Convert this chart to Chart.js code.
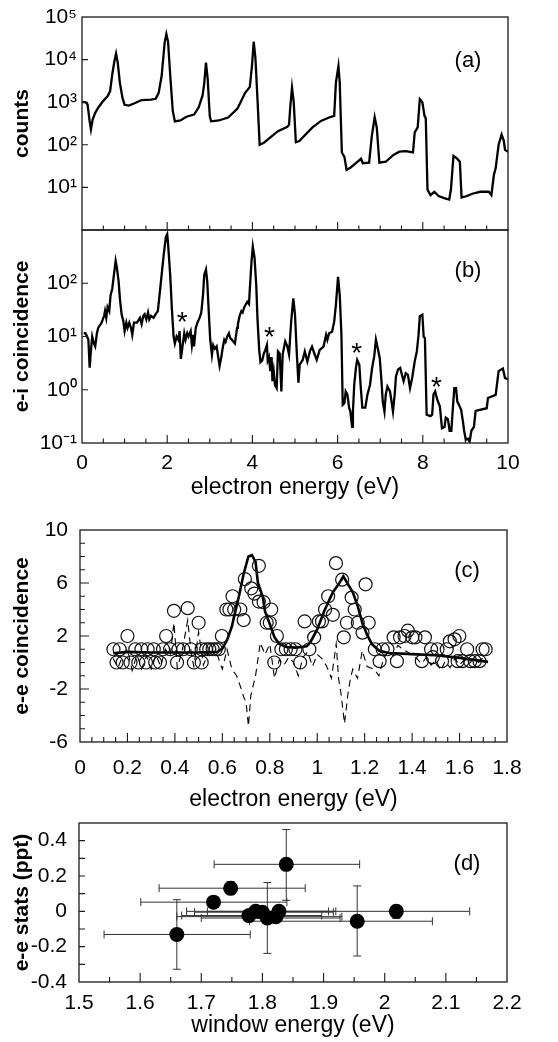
<!DOCTYPE html>
<html><head><meta charset="utf-8">
<script src="https://cdn.jsdelivr.net/npm/chart.js@4.4.1/dist/chart.umd.min.js"></script>
<style>
html,body{margin:0;padding:0;background:#fff;overflow:hidden;}
#wrap{position:relative;width:558px;height:1042px;overflow:hidden;background:#fff;}
canvas{position:absolute;left:0;}
</style></head><body>
<div id="wrap">
<canvas id="cA" width="558" height="231" style="top:0px;width:558px;height:231px"></canvas>
<canvas id="cB" width="558" height="290" style="top:220px;width:558px;height:290px"></canvas>
<canvas id="cC" width="558" height="300" style="top:515px;width:558px;height:300px"></canvas>
<canvas id="cD" width="558" height="232" style="top:810px;width:558px;height:232px"></canvas>
</div>
<script>
// ---------- panel (a): counts vs electron energy ----------
const aE = [0,0.08,0.13,0.18,0.21,0.25,0.31,0.38,0.49,0.6,0.66,0.71,0.76,0.8,0.84,0.89,0.95,1.0,1.1,1.22,1.4,1.62,1.73,1.8,1.87,1.94,1.98,2.02,2.07,2.13,2.18,2.31,2.45,2.63,2.74,2.83,2.87,2.91,2.95,3.0,3.03,3.21,3.43,3.65,3.83,3.94,3.99,4.03,4.07,4.12,4.17,4.27,4.45,4.6,4.82,4.86,4.89,4.93,4.97,5.02,5.1,5.41,5.61,5.8,5.92,5.96,6.02,6.05,6.1,6.16,6.21,6.3,6.43,6.55,6.59,6.74,6.8,6.87,6.92,6.98,7.13,7.31,7.45,7.6,7.77,7.81,7.88,7.93,7.99,8.04,8.07,8.11,8.18,8.27,8.37,8.5,8.62,8.66,8.72,8.8,8.87,8.91,9.02,9.16,9.35,9.55,9.61,9.67,9.71,9.78,9.85,9.9,9.93,10];
const aCounts = [1000,1000,891,355,229,389,562,741,1047,1380,1820,4467,9120,13800,8318,2818,1259,871,832,933,1122,1148,1202,1660,4169,25100,39800,26300,4467,631,355,372,457,513,759,1445,2818,8511,3548,468,355,372,437,708,1660,2291,7079,26300,11200,1148,100,112,158,209,263,295,794,2188,1000,115,123,257,363,437,479,2884,7079,2884,66,52,26,29,37,47,37,38,151,447,251,38,40,58,69,71,66,195,257,1175,1000,479,417,8.9,6.6,7.9,6.3,5.6,5.2,8.9,55,48,40,5.8,6.2,7.1,7.9,7.9,6.6,20,28,100,174,126,76,69];

// ---------- panel (b): e-i coincidence ----------
const bE = [0.04,0.08,0.12,0.15,0.18,0.21,0.24,0.28,0.31,0.35,0.38,0.46,0.52,0.54,0.57,0.6,0.64,0.67,0.71,0.75,0.79,0.82,0.86,0.89,0.93,0.97,1.0,1.04,1.07,1.11,1.15,1.18,1.22,1.29,1.36,1.4,1.44,1.47,1.51,1.55,1.58,1.62,1.68,1.73,1.78,1.82,1.87,1.92,1.97,2.0,2.02,2.07,2.11,2.15,2.18,2.22,2.26,2.29,2.32,2.36,2.4,2.43,2.47,2.5,2.55,2.58,2.61,2.63,2.67,2.71,2.76,2.8,2.84,2.87,2.91,2.94,2.98,3.01,3.05,3.08,3.12,3.16,3.19,3.23,3.27,3.3,3.34,3.37,3.41,3.45,3.48,3.52,3.56,3.59,3.64,3.66,3.7,3.74,3.77,3.81,3.85,3.88,3.92,3.94,3.98,4.01,4.05,4.09,4.12,4.16,4.19,4.23,4.27,4.3,4.34,4.36,4.39,4.42,4.45,4.47,4.5,4.53,4.57,4.6,4.64,4.68,4.71,4.77,4.82,4.86,4.91,4.96,5.0,5.04,5.08,5.11,5.18,5.23,5.29,5.35,5.4,5.45,5.51,5.58,5.67,5.73,5.76,5.8,5.87,5.92,5.96,6.01,6.05,6.09,6.12,6.16,6.19,6.23,6.27,6.3,6.34,6.36,6.39,6.43,6.46,6.51,6.54,6.58,6.65,6.7,6.76,6.81,6.86,6.9,6.95,6.99,7.03,7.06,7.1,7.13,7.17,7.23,7.26,7.3,7.34,7.37,7.42,7.47,7.52,7.55,7.6,7.65,7.7,7.75,7.81,7.86,7.9,7.93,7.99,8.02,8.05,8.09,8.18,8.22,8.25,8.29,8.34,8.4,8.45,8.51,8.54,8.59,8.63,8.67,8.7,8.74,8.78,8.81,8.85,8.9,8.94,8.97,9.01,9.06,9.1,9.14,9.2,9.24,9.5,9.53,9.71,9.78,9.88,9.93,10];
const bCoinc = [11.5,11.5,10,8.7,2.6,5.5,10,7.4,6.5,11.5,14.5,18.2,24.5,30,22.4,35.5,30,59,79,145,263,195,107,51,26,19.5,12.6,18.2,14.5,18.2,14.5,10.7,18.2,18.2,22.4,17,24.5,26.3,20.9,28.2,20.9,24.5,22.4,26.3,30,59,145,355,741,832,550,145,33,10,7.4,10,8.7,12.6,3.8,6.5,11.5,8.7,11.5,10,12.6,6.9,10.7,6.5,14.5,18.2,22.4,28.2,59,145,182,107,24.5,8.7,4.5,6.9,5.9,6.5,4.5,2.8,4.1,5.9,8.7,7.9,10,11.5,9.3,8.7,7.9,7.4,14.5,17,24.5,30,28.2,35.5,40.7,44.7,40.7,79,263,490,302,93,21,5.5,3.3,3.55,4.8,5.5,6.9,3.55,4.1,2.24,4.1,1.45,2.24,1.23,1.07,5.25,4.8,0.93,4.57,8.1,6.5,4.57,19,52,25.7,5.25,1.35,2.95,3.63,5.25,3.39,5.25,6.46,4.9,3.63,5.62,6.46,10.7,8.71,11.5,12.3,19,38.9,132,60,10.7,0.52,0.56,0.93,0.81,0.46,0.39,0.2,0.39,1.23,2.57,3.63,2.95,1.23,0.46,0.46,0.81,1.23,2.57,4.27,8.7,5.62,3.89,1.45,0.6,0.39,0.81,1.15,0.93,0.65,0.39,0.81,1.78,2.4,2.57,1.78,1.45,2.04,1.91,1.07,1.66,3.39,5.25,10.7,24,25.7,10,9.33,0.34,0.32,0.34,0.81,0.93,0.65,0.49,0.19,0.2,0.3,0.28,0.17,0.17,0.39,1.07,1.07,0.6,0.52,0.42,0.26,0.17,0.115,0.12,0.107,0.17,0.2,0.4,0.45,0.7,0.8,2.24,2.5,1.66,1.58];
const starE = [2.35, 4.4, 6.45, 8.32];
const starV = [25, 13, 6.5, 1.5];

// tick values / labels for (a),(b)
const abXMajor = [2,4,6,8];
const abXMinor = [0.5,1,1.5,2.5,3,3.5,4.5,5,5.5,6.5,7,7.5,8.5,9,9.5];
const bXTicks = [0,2,4,6,8,10];
const bXLabels = ['0','2','4','6','8','10'];
const aYTicks = [10,100,1000,10000,100000];
const aYLabels = ['10¹','10²','10³','10⁴','10⁵'];
const bYTicks = [0.1,1,10,100];
const bYLabels = ['10⁻¹','10⁰','10¹','10²'];

// ---------- panel (c): e-e coincidence ----------
const cE = [0.141,0.154,0.167,0.18,0.2,0.213,0.233,0.246,0.259,0.278,0.285,0.311,0.317,0.337,0.35,0.363,0.38,0.396,0.409,0.415,0.435,0.454,0.467,0.48,0.5,0.513,0.513,0.532,0.545,0.559,0.572,0.585,0.598,0.617,0.63,0.643,0.65,0.676,0.69,0.695,0.722,0.735,0.754,0.754,0.774,0.787,0.8,0.806,0.819,0.83,0.849,0.868,0.888,0.908,0.928,0.947,0.967,0.987,1.007,1.02,1.033,1.046,1.066,1.079,1.105,1.112,1.125,1.145,1.158,1.171,1.191,1.204,1.217,1.243,1.263,1.276,1.296,1.322,1.336,1.349,1.368,1.382,1.401,1.414,1.441,1.454,1.48,1.487,1.507,1.526,1.546,1.559,1.579,1.599,1.592,1.612,1.632,1.645,1.664,1.684,1.697,1.71];
const cV = [1,0,1,0,2,0,1,0,1,0,1,1,0,0,1,2,1,3.9,0,1,1,4.1,1,0,3,0,1,1,1,1,1,1,2,4,4,5,4,4,3.2,6.3,5.6,5.2,7.3,4.6,4.55,3,3,4,0,2,1,1,1,1,0,3.1,1,1.9,3.1,3.1,4,5,3.6,7.5,6.25,1.9,3,4.9,4,3,2.25,5.9,3,1,0.1,1,1,1.9,0.1,1.9,2,2.4,1.9,1.9,0.1,1.9,1,0.4,1,0.1,1,1.6,1.75,2,0.1,0.1,1,0.1,0.1,0.1,1,1];
const fE = [0.14,0.2,0.3,0.4,0.5,0.58,0.6,0.62,0.64,0.65,0.67,0.69,0.71,0.725,0.74,0.75,0.77,0.78,0.8,0.82,0.84,0.87,0.91,0.955,0.97,1.0,1.03,1.066,1.09,1.11,1.13,1.15,1.17,1.19,1.21,1.23,1.26,1.3,1.4,1.5,1.6,1.72];
const fV = [0.7,0.8,0.75,0.75,0.75,0.8,1.05,1.7,2.7,3.5,5.0,6.7,8.0,8.1,7.6,6.0,5.0,3.85,2.9,1.9,1.4,1.17,1.12,1.22,1.5,2.5,3.9,5.3,5.9,6.5,5.9,5.3,4.3,3.0,2.1,1.4,0.9,0.72,0.63,0.55,0.35,0.05];
const gE = [0.14,0.16,0.18,0.2,0.22,0.24,0.26,0.28,0.3,0.32,0.34,0.36,0.38,0.396,0.41,0.43,0.454,0.47,0.48,0.5,0.52,0.54,0.56,0.58,0.6,0.62,0.64,0.66,0.68,0.69,0.7,0.71,0.72,0.74,0.76,0.78,0.8,0.82,0.84,0.86,0.88,0.9,0.92,0.94,0.96,0.98,1.0,1.02,1.04,1.06,1.08,1.09,1.1,1.115,1.13,1.14,1.15,1.17,1.19,1.21,1.24,1.26,1.28,1.3,1.32,1.34,1.36,1.38,1.4,1.42,1.44,1.46,1.48,1.5,1.52,1.54,1.56,1.58,1.6,1.62,1.64,1.66,1.68,1.7];
const gV = [0.3,-0.4,0.5,1.0,-0.6,0.6,-0.5,0.5,-0.5,0.6,-0.3,1.0,0.5,3.0,-0.4,0.8,3.2,0.5,-0.3,2.3,-0.2,0.7,0.8,0.5,-0.5,1.0,-0.5,-1.0,-2.0,-2.6,-3.0,-4.8,-2.5,-1.0,1.5,0.6,1.4,-1.2,0.2,-0.2,0.4,0.0,-1.0,0.4,0.8,-0.3,0.6,0.3,-0.3,-1.2,1.4,-1.2,-2.3,-4.6,-2.3,-1.2,-0.5,-1.2,0.9,-0.3,-0.5,-1.0,0.3,0.9,0.5,1.3,1.0,0.8,0.5,0.3,-0.1,0.4,-0.2,0.2,-0.6,0.1,-0.4,0.3,-0.2,0.2,-0.1,0.3,0.0,0.4];
const cXTicks = [0,0.2,0.4,0.6,0.8,1,1.2,1.4,1.6,1.8];
const cXLabels = ['0','0.2','0.4','0.6','0.8','1','1.2','1.4','1.6','1.8'];
const cXMajor = [0.2,0.4,0.6,0.8,1,1.2,1.4,1.6];
const cXMinor = [0.05,0.1,0.15,0.25,0.3,0.35,0.45,0.5,0.55,0.65,0.7,0.75,0.85,0.9,0.95,1.05,1.1,1.15,1.25,1.3,1.35,1.45,1.5,1.55,1.65,1.7,1.75];
const cYTicks = [-6,-2,2,6,10];
const cYLabels = ['-6','-2','2','6','10'];
const cYMajor = [-2,2,6];
const cYMinor = [-5,-4,-3,-1,0,1,3,4,5,7,8,9];

// ---------- panel (d): e-e stats ----------
const dX   = [1.66,1.72,1.748,1.839,1.778,1.789,1.80,1.808,1.822,1.827,1.955,2.019];
const dY   = [-0.131,0.052,0.131,0.266,-0.024,0.0,-0.005,-0.038,-0.03,0.0,-0.056,0.0];
const dXLo = [1.541,1.601,1.631,1.721,1.668,1.676,1.689,1.70,1.66,1.71,1.779,1.827];
const dXHi = [1.78,1.84,1.87,1.959,1.897,1.908,1.916,1.927,1.93,1.92,2.078,2.139];
const dYLo = [-0.328,0.035,0.094,0.062,-0.04,-0.015,-0.02,-0.238,-0.045,-0.015,-0.253,-0.041];
const dYHi = [0.066,0.07,0.169,0.463,-0.008,0.015,0.01,0.163,-0.015,0.015,0.144,0.034];
const dXTicks = [1.5,1.6,1.7,1.8,1.9,2.0,2.1,2.2];
const dXLabels = ['1.5','1.6','1.7','1.8','1.9','2','2.1','2.2'];
const dXMajor = [1.6,1.7,1.8,1.9,2.0,2.1];
const dXMinor = [1.55,1.65,1.75,1.85,1.95,2.05,2.15];
const dYTicks = [-0.4,-0.2,0,0.2,0.4];
const dYLabels = ['-0.4','-0.2','0','0.2','0.4'];
const dYMinor = [-0.3,-0.2,-0.1,0,0.1,0.2,0.3,0.4];

// ---------- helpers ----------
const FONT = "'Liberation Sans', Arial, Helvetica, sans-serif";
Chart.defaults.font.family = FONT;
Chart.defaults.color = '#000';

const zip = (xs, ys) => xs.map((x, i) => ({x, y: ys[i]}));

const deco = {
  id: 'deco',
  beforeDatasetsDraw(chart, args, o) {
    if (!o.err) return;
    const {ctx} = chart; const xs = chart.scales.x, ys = chart.scales.y;
    const e = o.err;
    ctx.save();
    ctx.strokeStyle = '#333'; ctx.lineWidth = 1;
    ctx.beginPath();
    for (let i = 0; i < e.x.length; i++) {
      const px = xs.getPixelForValue(e.x[i]), py = ys.getPixelForValue(e.y[i]);
      const xl = xs.getPixelForValue(e.xlo[i]), xh = xs.getPixelForValue(e.xhi[i]);
      const yl = ys.getPixelForValue(e.ylo[i]), yh = ys.getPixelForValue(e.yhi[i]);
      ctx.moveTo(xl, py); ctx.lineTo(xh, py);
      ctx.moveTo(xl, py - 4); ctx.lineTo(xl, py + 4);
      ctx.moveTo(xh, py - 4); ctx.lineTo(xh, py + 4);
      ctx.moveTo(px, yl); ctx.lineTo(px, yh);
      ctx.moveTo(px - 4, yl); ctx.lineTo(px + 4, yl);
      ctx.moveTo(px - 4, yh); ctx.lineTo(px + 4, yh);
    }
    ctx.stroke();
    ctx.restore();
  },
  afterDatasetsDraw(chart, args, o) {
    const {ctx, chartArea: ca} = chart; const xs = chart.scales.x, ys = chart.scales.y;
    ctx.save();
    ctx.strokeStyle = '#1a1a1a'; ctx.lineWidth = 1.3;
    ctx.strokeRect(ca.left, ca.top, ca.right - ca.left, ca.bottom - ca.top);
    ctx.lineWidth = 1.1;
    ctx.beginPath();
    (o.xMajor || []).forEach(v => { const p = xs.getPixelForValue(v); ctx.moveTo(p, ca.bottom); ctx.lineTo(p, ca.bottom - o.xMajLen); });
    (o.xMinor || []).forEach(v => { const p = xs.getPixelForValue(v); ctx.moveTo(p, ca.bottom); ctx.lineTo(p, ca.bottom - o.xMinLen); });
    (o.yMajor || []).forEach(v => { const p = ys.getPixelForValue(v); ctx.moveTo(ca.left, p); ctx.lineTo(ca.left + o.yMajLen, p); });
    (o.yMinor || []).forEach(v => { const p = ys.getPixelForValue(v); ctx.moveTo(ca.left, p); ctx.lineTo(ca.left + o.yMinLen, p); });
    ctx.stroke();
    ctx.fillStyle = '#000';
    if (o.label) {
      ctx.font = '22px ' + FONT;
      ctx.textAlign = 'center'; ctx.textBaseline = 'middle';
      ctx.fillText(o.label, ca.right + o.labelDx, ca.top + o.labelDy);
    }
    if (o.stars) {
      ctx.font = '28px ' + FONT;
      ctx.textAlign = 'center'; ctx.textBaseline = 'alphabetic';
      o.stars.x.forEach((sx, i) => {
        ctx.fillText('*', xs.getPixelForValue(sx), ys.getPixelForValue(o.stars.y[i]) + 16);
      });
    }
    ctx.restore();
  }
};

function xAxis(min, max, tks, lbls, h, pad, title, tpad, show) {
  return {
    type: 'linear', position: 'bottom', min, max, display: show,
    grid: {display: false, drawTicks: false}, border: {display: false},
    afterBuildTicks: s => { s.ticks = tks.map(v => ({value: v})); },
    afterFit: s => { s.height = h; s.paddingLeft = 0; s.paddingRight = 0; s.paddingTop = 0; s.paddingBottom = 0; },
    ticks: {autoSkip: false, maxRotation: 0, minRotation: 0, padding: pad, color: '#000', font: {size: 21}, callback: (v, i) => lbls[i]},
    title: {display: !!title, text: title || '', color: '#000', font: {size: 23}, padding: {top: 0, bottom: tpad}}
  };
}
function yAxis(type, min, max, tks, lbls, w, pad, title) {
  return {
    type, position: 'left', min, max,
    grid: {display: false, drawTicks: false}, border: {display: false},
    afterBuildTicks: s => { s.ticks = tks.map(v => ({value: v})); },
    afterFit: s => { s.width = w; s.paddingTop = 0; s.paddingBottom = 0; s.paddingLeft = 0; s.paddingRight = 0; },
    ticks: {autoSkip: false, padding: pad, color: '#000', font: {size: 21}, callback: (v, i) => lbls[i]},
    title: {display: true, text: title, color: '#000', font: {size: 21, weight: 'bold'}, padding: {top: 9.5, bottom: 0}}
  };
}
function make(id, datasets, x, y, decoOpts, padding) {
  return new Chart(document.getElementById(id), {
    type: 'scatter',
    data: {datasets},
    options: {
      responsive: false, maintainAspectRatio: false, animation: false, devicePixelRatio: 1,
      layout: {padding},
      scales: {x, y},
      plugins: {legend: {display: false}, tooltip: {enabled: false}, deco: decoOpts}
    },
    plugins: [deco]
  });
}
const lineDs = (data, w, dash) => ({data, showLine: true, pointRadius: 0, borderColor: '#000', borderWidth: w, borderDash: dash || [], tension: 0, fill: false});

// (a)
make('cA', [lineDs(zip(aE, aCounts), 2.3)],
  xAxis(0, 10, [], [], 0, 0, '', 0, false),
  yAxis('logarithmic', 1, 100000, aYTicks, aYLabels, 82, 5, 'counts'),
  {xMajor: abXMajor, xMinor: abXMinor, xMajLen: 8, xMinLen: 4.5, yMajor: [10,100,1000,10000], yMajLen: 6, label: '(a)', labelDx: -40, labelDy: 44},
  {top: 17, right: 50, bottom: 1, left: 0});

// (b)
make('cB', [lineDs(zip(bE, bCoinc), 2.3)],
  xAxis(0, 10, bXTicks, bXLabels, 67, 8, 'electron energy (eV)', 9),
  yAxis('logarithmic', 0.1, 1000, bYTicks, bYLabels, 82, 5, 'e-i coincidence'),
  {xMajor: abXMajor, xMinor: abXMinor, xMajLen: 8, xMinLen: 4.5, yMajor: [1,10,100], yMajLen: 6, label: '(b)', labelDx: -40, labelDy: 41, stars: {x: starE, y: starV}},
  {top: 10, right: 50, bottom: 0, left: 0});

// (c)
make('cC', [
    lineDs(zip(gE, gV), 1.1, [7, 5]),
    {data: zip(cE, cV), pointRadius: 6.5, pointStyle: 'circle', borderColor: '#111', borderWidth: 1.2, backgroundColor: 'rgba(0,0,0,0)'},
    lineDs(zip(fE, fV), 2.6)
  ],
  xAxis(0, 1.8, cXTicks, cXLabels, 73, 14, 'electron energy (eV)', 1.5),
  yAxis('linear', -6, 10, cYTicks, cYLabels, 80, 12, 'e-e coincidence'),
  {xMajor: cXMajor, xMinor: cXMinor, xMajLen: 9, xMinLen: 5, yMajor: cYMajor, yMinor: cYMinor, yMajLen: 9, yMinLen: 5, label: '(c)', labelDx: -40, labelDy: 41},
  {top: 15, right: 51, bottom: 0, left: 0});

// (d)
make('cD', [
    {data: zip(dX, dY), pointRadius: 7.5, pointStyle: 'circle', borderWidth: 0, backgroundColor: '#000', borderColor: '#000'}
  ],
  xAxis(1.5, 2.2, dXTicks, dXLabels, 60, 9, 'window energy (eV)', 2.5),
  yAxis('linear', -0.4, 0.5, dYTicks, dYLabels, 79, 12, 'e-e stats (ppt)'),
  {xMajor: dXMajor, xMinor: dXMinor, xMajLen: 9, xMinLen: 5, yMinor: dYMinor, yMinLen: 6, label: '(d)', labelDx: -40, labelDy: 41,
   err: {x: dX, y: dY, xlo: dXLo, xhi: dXHi, ylo: dYLo, yhi: dYHi}},
  {top: 13, right: 51, bottom: 0, left: 0});
</script>
</body></html>
